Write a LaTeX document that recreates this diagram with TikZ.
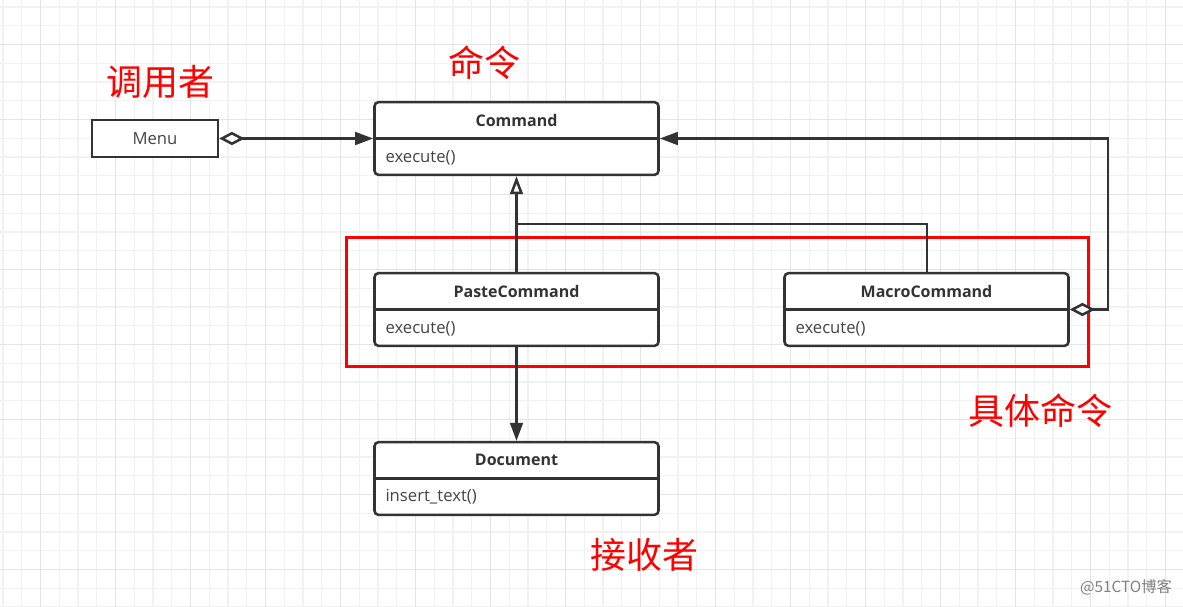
\documentclass[tikz,border=0pt]{standalone}
\usepackage{fontspec}
\setmainfont{Open Sans}
\newfontfamily\cjk{Noto Sans CJK SC}
\usetikzlibrary{arrows.meta}

\definecolor{ink}{HTML}{333333}
\definecolor{methodgray}{HTML}{444444}
\definecolor{gridminor}{HTML}{F2F2F2}
\definecolor{gridmajor}{HTML}{E4E4E4}

\tikzset{every picture/.style={line width=0.75pt}}

\begin{document}
\begin{tikzpicture}[x=0.75pt,y=0.75pt,yscale=-1,xscale=1,
	cls/.style={draw=ink,line width=1.9pt,rounded corners=3pt,fill=white,minimum width=213pt,minimum height=54.5pt,inner sep=0pt},
	menubox/.style={draw=ink,line width=1.9pt,fill=white,minimum width=94.5pt,minimum height=27.5pt,inner sep=0pt},
	divider/.style={draw=ink,line width=1.6pt},
	ttl/.style={text=ink,font=\bfseries\fontsize{12}{14}\selectfont,inner sep=0.75pt},
	mth/.style={text=methodgray,font=\fontsize{12.5}{15}\selectfont,inner sep=0.75pt,anchor=west},
	note/.style={text=red,font=\cjk\fontsize{27}{32}\selectfont,inner sep=0.75pt},
	link/.style={draw=ink,line width=1.9pt},
	sublink/.style={draw=ink,line width=1.5pt},
	grpbox/.style={draw=red,line width=2.2pt,minimum width=556.5pt,minimum height=97pt,inner sep=0pt},
	aggtip/.tip={Diamond[fill=white,length=19pt,width=10pt]},
	headtip/.tip={Triangle[length=13.5pt,width=9.5pt]}]
	\useasboundingbox (0,0) rectangle (1183,607);
	\fill[white] (0,0) rectangle (1183,607);
	
	%Grid: minor lines
	\foreach \i in {0,...,63} \draw[gridminor,line width=0.9pt] ({3+18.75*\i},0) -- ({3+18.75*\i},607);
	\foreach \i in {0,...,32} \draw[gridminor,line width=0.9pt] (0,{7+18.75*\i}) -- (1183,{7+18.75*\i});
	%Grid: major lines
	\foreach \i in {0,...,15} \draw[gridmajor,line width=0.9pt] ({40.5+75*\i},0) -- ({40.5+75*\i},607);
	\foreach \i in {0,...,7} \draw[gridmajor,line width=0.9pt] (0,{44.5+75*\i}) -- (1183,{44.5+75*\i});
	
	%Shape: Rectangle (concrete commands frame)
	\node[grpbox] (grp) at (717.5,302) {};
	
	%Shape: Class Menu
	\node[menubox] (menu) at (155,138.5) {};
	\node[text=methodgray,font=\fontsize{12.5}{15}\selectfont,inner sep=0.75pt] (menuT) at (155,138.5) {Menu};
	
	%Shape: Class Command
	\node[cls] (cmd) at (516.5,138.5) {};
	\draw[divider] (cmd.west) -- (cmd.east);
	\node[ttl] (cmdT) at (516.5,120) {Command};
	\node[mth] (cmdM) at (384,158) {execute()};
	
	%Shape: Class PasteCommand
	\node[cls] (paste) at (516.5,309.5) {};
	\draw[divider] (paste.west) -- (paste.east);
	\node[ttl] (pasteT) at (516.5,291) {PasteCommand};
	\node[mth] (pasteM) at (384,329) {execute()};
	
	%Shape: Class MacroCommand
	\node[cls] (macro) at (926.5,309.5) {};
	\draw[divider] (macro.west) -- (macro.east);
	\node[ttl] (macroT) at (926.5,291) {MacroCommand};
	\node[mth] (macroM) at (794,329) {execute()};
	
	%Shape: Class Document
	\node[cls] (doc) at (516.5,478.5) {};
	\draw[divider] (doc.west) -- (doc.east);
	\node[ttl] (docT) at (516.5,460) {Document};
	\node[mth] (docM) at (384,497) {insert\_text()};
	
	%Straight Lines
	\coordinate (gjoin) at (516.5,224);
	\coordinate (aggbend) at (1108,138.5);
	\draw[sublink] (macro.north) |- (gjoin);
	\draw[link,-{Triangle[open,fill=white,length=13.5pt,width=9.5pt]}] (paste.north) -- (cmd.south);
	\draw[link,aggtip-headtip] (menu.east) -- (cmd.west);
	\draw[link,-headtip] (paste.south) -- (doc.north);
	\draw[link,aggtip-headtip] (macro.east) -| (aggbend) -- (cmd.east);
	
	% Text Node
	\node[note] (lblInvoker) at (160,82) {调用者};
	% Text Node
	\node[note] (lblCommand) at (484,63) {命令};
	% Text Node
	\node[note] (lblConcrete) at (1040,411) {具体命令};
	% Text Node
	\node[note] (lblReceiver) at (644,555) {接收者};
	% Text Node
	\node[text=gray,font=\cjk\fontsize{11.5}{13}\selectfont,inner sep=0.75pt] (mark) at (1126,587) {@51CTO博客};
	
\end{tikzpicture}
\end{document}
